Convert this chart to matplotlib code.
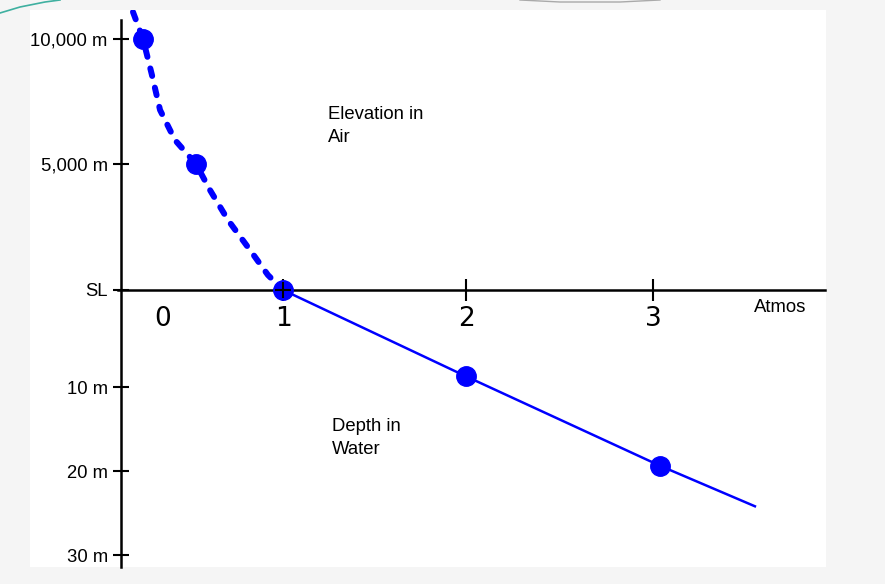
import numpy as np
import matplotlib
matplotlib.use("Agg")
import matplotlib.pyplot as plt
from matplotlib.lines import Line2D

plt.rcParams['font.family'] = ['Liberation Sans', 'DejaVu Sans']

# atmospheres vs height (m, + = elevation in air, - = depth in water)
air_atm = [0.074, 0.136, 0.191, 0.241, 0.333, 0.463, 0.549, 0.660, 0.796, 0.907, 1.0]
air_h = [11080, 10000, 8560, 7160, 5960, 5000, 3970, 2780, 1590, 595, 0]
air_pts_atm = [0.136, 0.463]
air_pts_h = [10000, 5000]

water_atm = [1.0, 2.0, 3.04, 3.545]
water_h = [0, -8.9, -19.4, -24.2]
water_pts_atm = [2.0, 3.04]
water_pts_h = [-8.9, -19.4]

ytick_vals = [10000, 5000, 0, -10, -20, -30]
ytick_labels = ['10,000 m', '5,000 m', 'SL', '10 m', '20 m', '30 m']
xtick_vals = [0, 1, 2, 3]
xtick_labels = ['0', '1', '2', '3']

# hand drawn axes are not evenly spaced: piecewise scales
x_nodes = [-1, 0, 1, 2, 3, 5]
x_px = [-41, 121, 283, 466, 653, 1027]
y_nodes = [-50, -30, -20, -10, 0, 5000, 10000, 20000]
y_px = [-433, -265, -181, -97, 0, 126, 251, 501]

def xf(v):
    return np.interp(v, x_nodes, x_px)
def xi(v):
    return np.interp(v, x_px, x_nodes)
def yf(v):
    return np.interp(v, y_nodes, y_px)
def yi(v):
    return np.interp(v, y_px, y_nodes)

fig = plt.figure(figsize=(8.85, 5.84), dpi=100, facecolor='#f5f5f5')
ax = fig.add_axes([30/885, 1-567/584, (826-30)/885, (567-10)/584])
ax.set_facecolor('white')
ax.set_xscale('function', functions=(xf, xi))
ax.set_yscale('function', functions=(yf, yi))
ax.set_xlim(xi(30), xi(826))
ax.set_ylim(yi(290-567), yi(290-10))

ax.spines['top'].set_visible(False)
ax.spines['right'].set_visible(False)
ax.spines['left'].set_position(('data', 0))
ax.spines['bottom'].set_position(('data', 0))
ax.spines['left'].set_bounds(yi(290-567), yi(290-20))
ax.spines['bottom'].set_bounds(xi(118), xi(825))
for s in ['left', 'bottom']:
    ax.spines[s].set_linewidth(1.8)
    ax.spines[s].set_zorder(1)

ax.set_yticks(ytick_vals)
ax.set_yticklabels(ytick_labels, fontsize=13.3)
ax.tick_params(axis='y', direction='inout', length=12, width=1.5, pad=3.5)
ax.set_xticks([1, 2, 3])
ax.set_xticklabels([])
ax.tick_params(axis='x', direction='inout', length=16, width=1.5)

ax.plot(air_atm, air_h, color='#0000ff', lw=4.3, linestyle=(0, (1.3, 2.0)),
        solid_capstyle='round', dash_capstyle='round', zorder=2)
ax.plot(water_atm, water_h, color='#0000ff', lw=1.8, zorder=2)
ax.plot(air_pts_atm + [1.0] + water_pts_atm, air_pts_h + [0] + water_pts_h,
        'o', color='#0000ff', ms=14, zorder=3)
ax.plot([1.0], [0], '+', color='black', ms=12, mew=1.5, zorder=4)

for v, lab in zip(xtick_vals, xtick_labels):
    dx = 30 if v == 0 else 0
    ax.annotate(lab, (v, 0), xytext=(dx, -21), textcoords='offset points',
                ha='center', va='center', fontsize=19,
                family='DejaVu Sans')

ax.text(xi(754), yi(290-307), 'Atmos', fontsize=13.3, ha='left', va='center')
ax.text(xi(328), yi(290-106), 'Elevation in\nAir', fontsize=13.3,
        ha='left', va='top', linespacing=1.45)
ax.text(xi(332), yi(290-418), 'Depth in\nWater', fontsize=13.3,
        ha='left', va='top', linespacing=1.45)

# slide decoration
fig.add_artist(Line2D([0, 20/885, 45/885, 60/885], [1-13/584, 1-7/584, 1-2/584, 1.0],
                      color='#3fb0a0', lw=1.2))
fig.add_artist(Line2D([520/885, 560/885, 620/885, 660/885], [1.0, 1-2/584, 1-2/584, 1.0],
                      color='#aaaaaa', lw=1.0))

fig.savefig('out.png', dpi=100, facecolor=fig.get_facecolor())
